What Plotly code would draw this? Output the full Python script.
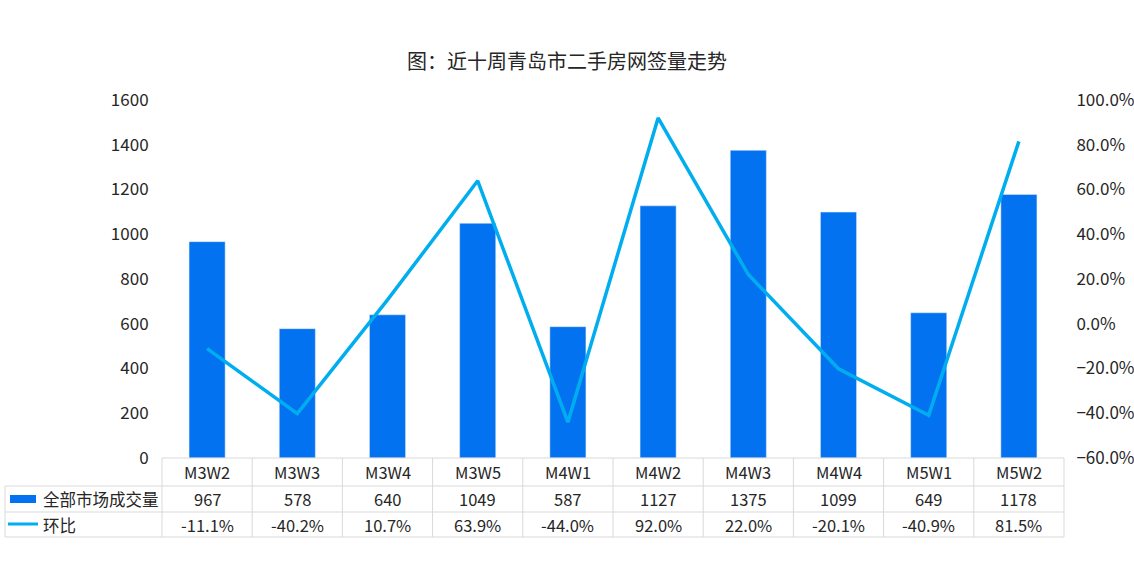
import plotly.graph_objects as go

categories = ["M3W2", "M3W3", "M3W4", "M3W5", "M4W1", "M4W2", "M4W3", "M4W4", "M5W1", "M5W2"]
volume = [967, 578, 640, 1049, 587, 1127, 1375, 1099, 649, 1178]
mom = [-0.111, -0.402, 0.107, 0.639, -0.440, 0.920, 0.220, -0.201, -0.409, 0.815]
bar_name = "全部市场成交量"
line_name = "环比"
title = "图：近十周青岛市二手房网签量走势"

W, H = 1134, 561
L, R, T, B = 162, 70, 100, 103
PW, PH = W - L - R, H - T - B

def py(pix):
    return (H - B - pix) / PH

def px(pix):
    return (pix - L) / PW

BAR_C = "#0372F0"
LINE_C = "#00AEF0"
GRID_C = "#D9D9D9"
FONT = "Noto Sans CJK SC, Microsoft YaHei, sans-serif"
TXT = "#262626"
TS = 16.5

fig = go.Figure()
fig.add_trace(go.Bar(x=categories, y=volume, marker_color=BAR_C, width=0.4,
                     name=bar_name, yaxis="y"))
fig.add_trace(go.Scatter(x=categories, y=mom, mode="lines", line=dict(color=LINE_C, width=3.5),
                         name=line_name, yaxis="y2"))

shapes = []
annotations = []
row_lines = [458, 486, 512, 537]
shapes.append(dict(type="line", xref="paper", yref="paper", x0=0, x1=1, y0=py(458), y1=py(458),
                   line=dict(color=GRID_C, width=1)))
for yy in row_lines[1:]:
    shapes.append(dict(type="line", xref="paper", yref="paper", x0=px(5), x1=1, y0=py(yy), y1=py(yy),
                       line=dict(color=GRID_C, width=1)))
n = len(categories)
for k in range(n + 1):
    xx = k / n
    shapes.append(dict(type="line", xref="paper", yref="paper", x0=xx, x1=xx, y0=py(458), y1=py(537),
                       line=dict(color=GRID_C, width=1)))
shapes.append(dict(type="line", xref="paper", yref="paper", x0=px(5), x1=px(5), y0=py(486), y1=py(537),
                   line=dict(color=GRID_C, width=1)))
shapes.append(dict(type="rect", xref="paper", yref="paper", x0=px(10), x1=px(36), y0=py(503), y1=py(495),
                   fillcolor=BAR_C, line=dict(width=0)))
shapes.append(dict(type="line", xref="paper", yref="paper", x0=px(8), x1=px(38), y0=py(524), y1=py(524),
                   line=dict(color=LINE_C, width=3)))

annotations.append(dict(xref="paper", yref="paper", x=px(41), y=py(499.5), text=bar_name, showarrow=False,
                        xanchor="left", yanchor="middle", font=dict(size=TS, color=TXT, family=FONT)))
annotations.append(dict(xref="paper", yref="paper", x=px(41), y=py(524.5), text=line_name, showarrow=False,
                        xanchor="left", yanchor="middle", font=dict(size=TS, color=TXT, family=FONT)))
for c, v, m in zip(categories, volume, mom):
    annotations.append(dict(xref="x", yref="paper", x=c, y=py(472), text=c, showarrow=False,
                            yanchor="middle", font=dict(size=TS, color=TXT, family=FONT)))
    annotations.append(dict(xref="x", yref="paper", x=c, y=py(499.5), text=str(v), showarrow=False,
                            yanchor="middle", font=dict(size=TS, color=TXT, family=FONT)))
    annotations.append(dict(xref="x", yref="paper", x=c, y=py(524.5), text=f"{m*100:.1f}%", showarrow=False,
                            yanchor="middle", font=dict(size=TS, color=TXT, family=FONT)))

fig.update_layout(
    width=W, height=H,
    margin=dict(l=L, r=R, t=T, b=B, pad=0),
    paper_bgcolor="white", plot_bgcolor="white",
    showlegend=False,
    title=dict(text=title, x=0.5, xanchor="center", y=1 - 62 / H, yanchor="middle",
               font=dict(size=20, color=TXT, family=FONT)),
    font=dict(family=FONT, color=TXT, size=TS),
    xaxis=dict(showticklabels=False, showgrid=False, zeroline=False, showline=False, ticks="",
               automargin=False),
    yaxis=dict(range=[0, 1600], dtick=200, showgrid=False, zeroline=False, showline=False,
               tickfont=dict(size=17, color=TXT, family=FONT), ticks="outside", ticklen=9,
               tickcolor="rgba(0,0,0,0)", automargin=False),
    yaxis2=dict(range=[-0.6, 1.0], dtick=0.2, overlaying="y", side="right", tickformat=".1%",
                showgrid=False, zeroline=False, showline=False, automargin=False,
                tickfont=dict(size=17, color=TXT, family=FONT), ticks="outside", ticklen=8,
                tickcolor="rgba(0,0,0,0)"),
    shapes=shapes,
    annotations=annotations,
)

fig.write_html("out.html")
